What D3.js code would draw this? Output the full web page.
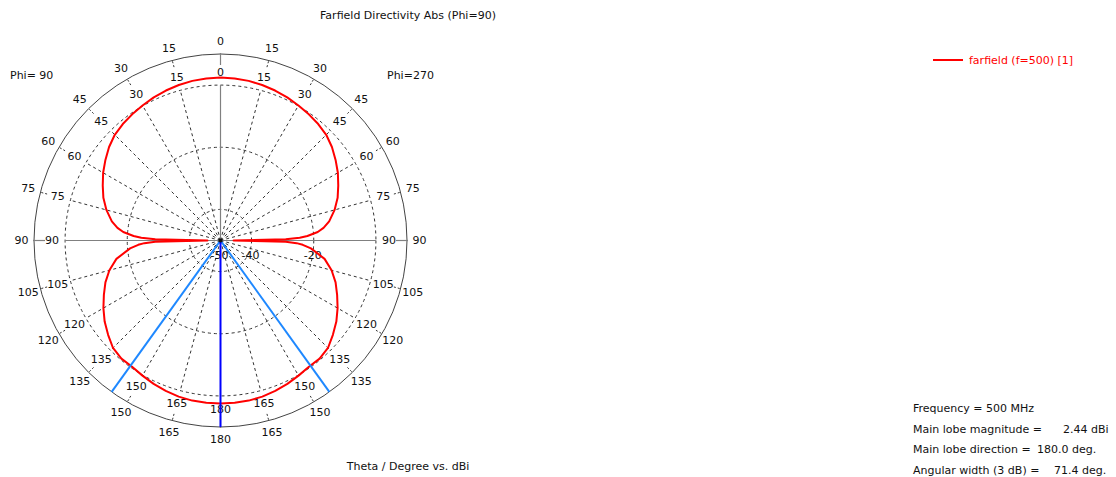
<!DOCTYPE html>
<html>
<head>
<meta charset="utf-8">
<script src="https://cdn.jsdelivr.net/npm/d3@7"></script>
<style>
  html, body { margin: 0; padding: 0; background: #fff; }
  svg { display: block; font-family: "DejaVu Sans", sans-serif; }
  text { font-size: 11px; fill: #111; }
</style>
</head>
<body>
<svg id="chart" width="1116" height="477"></svg>
<script>
// ---- data ----
const thetaDeg = [0,5,10,15,20,25,30,35,40,45,50,55,60,65,70,75,80,83,85,87,88,89,90,
                  91,92,93,95,100,105,110,115,120,125,130,135,140,145,150,155,160,165,170,175,180];
const directivityDbi = [2.44,2.35,2.15,1.8,1.35,0.8,0.15,-0.45,-1.1,-1.9,-3.2,-4.8,-6.4,-8.2,-9.9,-12.0,-14.5,-16.6,-18.6,-22.0,-24.5,-29.0,-45.8,
                  -29.0,-25.5,-23.5,-20.8,-16.0,-13.0,-10.6,-8.6,-6.5,-4.5,-2.8,-1.1,-0.4,-0.4,0.2,0.9,1.5,2.0,2.3,2.4,2.44];
const thetaTicks = [0,15,30,45,60,75,90,105,120,135,150,165,180];
const gridCircles = [-40,-20,0];
const ringLabels = [-50,-40,-20];
const dbRange = [-50, 10];
const mainLobeDir = 180.0;
const angularWidth = 71.4;
const title = "Farfield Directivity Abs (Phi=90)";
const xTitle = "Theta / Degree vs. dBi";
const legendLabel = "farfield (f=500) [1]";
const infoLabels = ["Frequency = 500 MHz", "Main lobe magnitude =", "Main lobe direction =", "Angular width (3 dB) ="];
const infoValues = ["", "2.44 dBi", "180.0 deg.", "71.4 deg."];

// ---- layout ----
const svg = d3.select("#chart");
const cx = 220.5, cy = 240.5, R = 186.5;
const r = d3.scaleLinear().domain(dbRange).range([0, R]);
const rad = d => d * Math.PI / 180;
const pt = (a, rr) => [cx + rr * Math.sin(rad(a)), cy - rr * Math.cos(rad(a))];

const g = svg.append("g");

// dashed grid circles
g.selectAll("circle.grid").data(gridCircles).join("circle")
  .attr("cx", cx).attr("cy", cy).attr("r", d => r(d))
  .attr("fill", "none").attr("stroke", "#333").attr("stroke-width", 1)
  .attr("stroke-dasharray", "3,3");

// dashed radial lines every 15 deg (not on axes)
const radAngles = d3.range(0, 360, 15).filter(a => a % 90 !== 0);
g.selectAll("line.rad").data(radAngles).join("line")
  .attr("x1", cx).attr("y1", cy)
  .attr("x2", a => pt(a, r(0))[0]).attr("y2", a => pt(a, r(0))[1])
  .attr("stroke", "#333").attr("stroke-width", 1).attr("stroke-dasharray", "3,3");

// outer circle
g.append("circle").attr("cx", cx).attr("cy", cy).attr("r", R)
  .attr("fill", "none").attr("stroke", "#444").attr("stroke-width", 1);

// small ticks on outer circle
g.selectAll("line.tk").data(radAngles).join("line")
  .attr("x1", a => pt(a, R - 7)[0]).attr("y1", a => pt(a, R - 7)[1])
  .attr("x2", a => pt(a, R)[0]).attr("y2", a => pt(a, R)[1])
  .attr("stroke", "#333").attr("stroke-width", 1).attr("stroke-dasharray", "2,2");

// solid axes
const axisCol = "#808080";
g.append("line").attr("x1", cx - r(0)).attr("x2", cx + r(0)).attr("y1", cy).attr("y2", cy)
  .attr("stroke", axisCol).attr("stroke-width", 1.2);
g.append("line").attr("x1", cx).attr("x2", cx).attr("y1", cy).attr("y2", cy - r(0))
  .attr("stroke", axisCol).attr("stroke-width", 1.2);
[0, 90, 180, 270].forEach(a => {
  g.append("line")
    .attr("x1", pt(a, R - 11)[0]).attr("y1", pt(a, R - 11)[1])
    .attr("x2", pt(a, R + 1)[0]).attr("y2", pt(a, R + 1)[1])
    .attr("stroke", axisCol).attr("stroke-width", 1.2);
});

// theta labels: inner and outer rings, both halves
function thetaLabels(rr) {
  const items = [];
  thetaTicks.forEach(t => {
    items.push({t, a: t});
    if (t !== 0 && t !== 180) items.push({t, a: 360 - t});
  });
  g.selectAll(null).data(items).join("text")
    .attr("x", d => pt(d.a, rr)[0]).attr("y", d => pt(d.a, rr)[1])
    .attr("text-anchor", "middle").attr("dominant-baseline", "central")
    .text(d => d.t);
}
thetaLabels(168.5);
thetaLabels(199);

// dB ring labels
g.selectAll("text.db").data(ringLabels).join("text")
  .attr("x", d => cx + r(d) - 1).attr("y", cy + 15)
  .attr("text-anchor", "middle").attr("dominant-baseline", "central")
  .text(d => d);

// red pattern: right half (phi=270) and left half (phi=90)
const pts = [];
thetaDeg.forEach((t, i) => pts.push([rad(t), r(directivityDbi[i])]));
for (let i = thetaDeg.length - 1; i >= 0; i--) pts.push([rad(360 - thetaDeg[i]), r(directivityDbi[i])]);
const lineR = d3.lineRadial().angle(d => d[0]).radius(d => d[1]);
g.append("path").attr("transform", `translate(${cx},${cy})`)
  .attr("d", lineR(pts)).attr("fill", "none").attr("stroke", "#ff0000")
  .attr("stroke-width", 2).attr("stroke-linejoin", "round");

// main lobe + 3 dB lines
[mainLobeDir - angularWidth / 2, mainLobeDir + angularWidth / 2].forEach(a => {
  g.append("line").attr("x1", cx).attr("y1", cy)
    .attr("x2", pt(a, R)[0]).attr("y2", pt(a, R)[1])
    .attr("stroke", "#1e88ff").attr("stroke-width", 2);
});
g.append("line").attr("x1", cx).attr("y1", cy)
  .attr("x2", pt(mainLobeDir, R)[0]).attr("y2", pt(mainLobeDir, R)[1])
  .attr("stroke", "#0000ff").attr("stroke-width", 2);

// center dot
g.append("circle").attr("cx", cx).attr("cy", cy).attr("r", 2).attr("fill", "#111");

// phi labels
svg.append("text").attr("x", 10).attr("y", 79).text("Phi= 90");
svg.append("text").attr("x", 387).attr("y", 79).text("Phi=270");

// titles
svg.append("text").attr("x", 408).attr("y", 19).attr("text-anchor", "middle").text(title);
svg.append("text").attr("x", 408).attr("y", 470).attr("text-anchor", "middle").text(xTitle);

// legend
svg.append("line").attr("x1", 933).attr("x2", 963).attr("y1", 60).attr("y2", 60)
  .attr("stroke", "#ff0000").attr("stroke-width", 2);
svg.append("text").attr("x", 969).attr("y", 64).style("fill", "#ff0000").text(legendLabel);

// info block
const infoX = [0, 1063, 1037, 1054];
infoLabels.forEach((s, i) => {
  svg.append("text").attr("x", 913).attr("y", 412 + i * 20.7).text(s);
  if (infoValues[i]) svg.append("text").attr("x", infoX[i]).attr("y", 412 + i * 20.7).text(infoValues[i]);
});
</script>
</body>
</html>
